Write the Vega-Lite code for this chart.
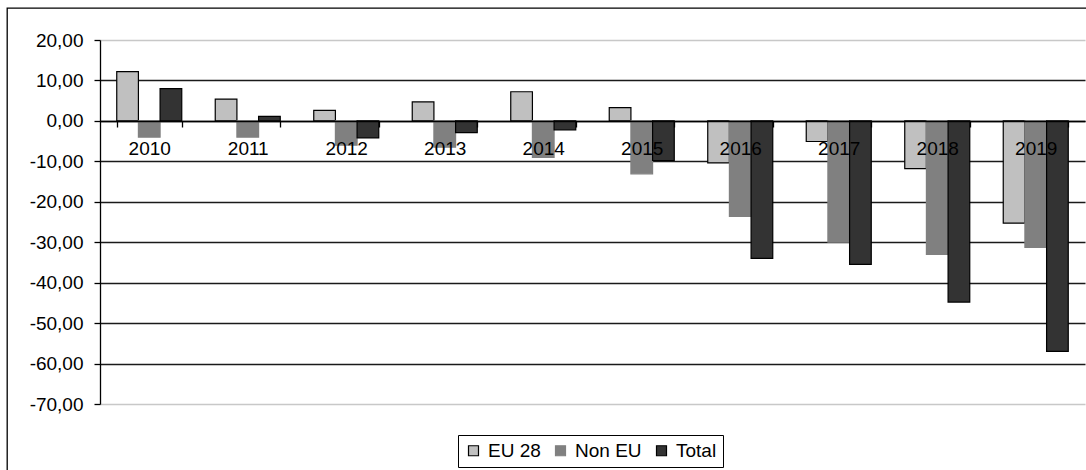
{
  "$schema": "https://vega.github.io/schema/vega-lite/v6.json",
  "width": 1082,
  "height": 465,
  "autosize": {"type": "none"},
  "padding": {"left": 7, "top": 8, "right": 0, "bottom": 0},
  "background": "white",
  "config": {
    "font": "Liberation Sans",
    "view": {"stroke": "#000000", "strokeWidth": 1.3}
  },
  "data": {
    "values": [
      {"year": "2010", "region": "EU 28", "value": 12.2},
      {"year": "2010", "region": "Non EU", "value": -4.0},
      {"year": "2010", "region": "Total", "value": 8.0},
      {"year": "2011", "region": "EU 28", "value": 5.4},
      {"year": "2011", "region": "Non EU", "value": -4.0},
      {"year": "2011", "region": "Total", "value": 1.1},
      {"year": "2012", "region": "EU 28", "value": 2.6},
      {"year": "2012", "region": "Non EU", "value": -6.0},
      {"year": "2012", "region": "Total", "value": -4.2},
      {"year": "2013", "region": "EU 28", "value": 4.7},
      {"year": "2013", "region": "Non EU", "value": -6.5},
      {"year": "2013", "region": "Total", "value": -2.9},
      {"year": "2014", "region": "EU 28", "value": 7.2},
      {"year": "2014", "region": "Non EU", "value": -9.0},
      {"year": "2014", "region": "Total", "value": -2.2},
      {"year": "2015", "region": "EU 28", "value": 3.3},
      {"year": "2015", "region": "Non EU", "value": -13.1},
      {"year": "2015", "region": "Total", "value": -9.8},
      {"year": "2016", "region": "EU 28", "value": -10.4},
      {"year": "2016", "region": "Non EU", "value": -23.6},
      {"year": "2016", "region": "Total", "value": -34.0},
      {"year": "2017", "region": "EU 28", "value": -5.1},
      {"year": "2017", "region": "Non EU", "value": -30.0},
      {"year": "2017", "region": "Total", "value": -35.5},
      {"year": "2018", "region": "EU 28", "value": -11.8},
      {"year": "2018", "region": "Non EU", "value": -33.0},
      {"year": "2018", "region": "Total", "value": -44.8},
      {"year": "2019", "region": "EU 28", "value": -25.3},
      {"year": "2019", "region": "Non EU", "value": -31.3},
      {"year": "2019", "region": "Total", "value": -57.0}
    ]
  },
  "mark": {"type": "bar", "strokeWidth": 1.2},
  "encoding": {
    "x": {
      "field": "year",
      "type": "nominal",
      "scale": {"range": [93, 1078], "paddingInner": 0.34, "paddingOuter": 0.17},
      "axis": {
        "title": null,
        "orient": "bottom",
        "offset": -352,
        "zindex": 1,
        "labelAngle": 0,
        "labelFontSize": 19,
        "labelColor": "#000000",
        "labelPadding": 12,
        "tickBand": "extent",
        "tickSize": 6,
        "tickColor": "#000000",
        "tickWidth": 1.3,
        "domainColor": "#000000",
        "domainWidth": 1.3,
        "grid": false
      }
    },
    "xOffset": {
      "field": "region",
      "type": "nominal",
      "sort": ["EU 28", "Non EU", "Total"],
      "scale": {"paddingInner": 0, "paddingOuter": 0}
    },
    "y": {
      "field": "value",
      "type": "quantitative",
      "scale": {"domain": [-70, 20], "range": [396, 32], "nice": false, "zero": false},
      "axis": {
        "title": null,
        "offset": -93,
        "values": [20, 10, 0, -10, -20, -30, -40, -50, -60, -70],
        "labelExpr": "replace(replace(format(datum.value, '.2f'), '.', ','), '\u2212', '-')",
        "labelFontSize": 19,
        "labelColor": "#000000",
        "labelPadding": 11,
        "tickSize": 6,
        "tickColor": "#000000",
        "tickWidth": 1.3,
        "domainColor": "#000000",
        "domainWidth": 1.3,
        "grid": true,
        "gridColor": {"condition": {"test": "datum.value === 20 || datum.value === -70", "value": "#c8c8c8"}, "value": "#1a1a1a"},
        "gridWidth": 1.3
      }
    },
    "fill": {
      "field": "region",
      "type": "nominal",
      "scale": {"domain": ["EU 28", "Non EU", "Total"], "range": ["#c0c0c0", "#808080", "#333333"]},
      "legend": {
        "title": null,
        "orient": "none",
        "legendX": 451,
        "legendY": 427,
        "direction": "horizontal",
        "labelFontSize": 19,
        "labelColor": "#000000",
        "symbolType": "square",
        "symbolSize": 100,
        "symbolStrokeWidth": 1.2,
        "strokeColor": "#000000",
        "fillColor": "#ffffff",
        "padding": 6,
        "columnPadding": 10,
        "labelOffset": 5
      }
    },
    "stroke": {
      "field": "region",
      "type": "nominal",
      "scale": {"domain": ["EU 28", "Non EU", "Total"], "range": ["#000000", "#808080", "#000000"]}
    }
  }
}
